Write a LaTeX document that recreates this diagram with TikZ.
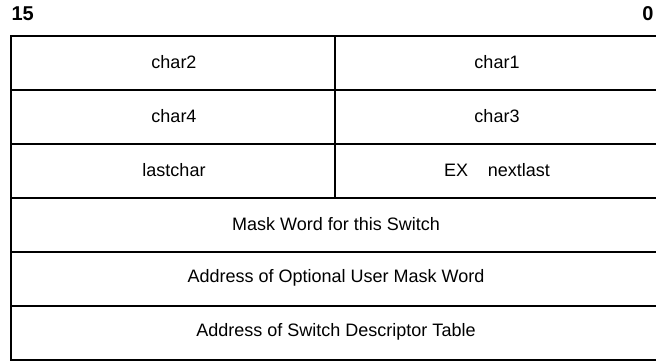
\documentclass[tikz,border=0pt]{standalone}
\usepackage{fontspec}
\setmainfont{Liberation Sans}
\begin{document}
\begin{tikzpicture}[x=1pt,y=-1pt,
  cell/.style={font=\fontsize{18}{20}\selectfont},
  bit/.style={font=\bfseries\fontsize{20}{22}\selectfont},
  rule/.style={line width=1.4pt}]
\useasboundingbox (0,0) rectangle (656,362);
\begin{scope}
\clip (0,0) rectangle (656,362);
\draw[rule] (662,36) -- (11,36) -- (11,360) -- (662,360);
\foreach \y in {90,144,198,252,306} \draw[rule] (11,\y) -- (662,\y);
\draw[rule] (335,36) -- (335,198);
\end{scope}
\node[bit,anchor=west] (b15) at (8,14) {15};
\node[bit,anchor=east] (b0) at (657,14) {0};
\node[cell] (c2) at (174,62) {char2};
\node[cell] (c1) at (497,62) {char1};
\node[cell] (c4) at (174,116) {char4};
\node[cell] (c3) at (497,116) {char3};
\node[cell] (lc) at (174,170) {lastchar};
\node[cell] (nl) at (497,170) {EX\hspace{1.1em}nextlast};
\node[cell] (mw) at (336,224) {Mask Word for this Switch};
\node[cell] (um) at (336,278) {Address of Optional User Mask Word};
\node[cell] (sd) at (336,332) {Address of Switch Descriptor Table};
\end{tikzpicture}
\end{document}
